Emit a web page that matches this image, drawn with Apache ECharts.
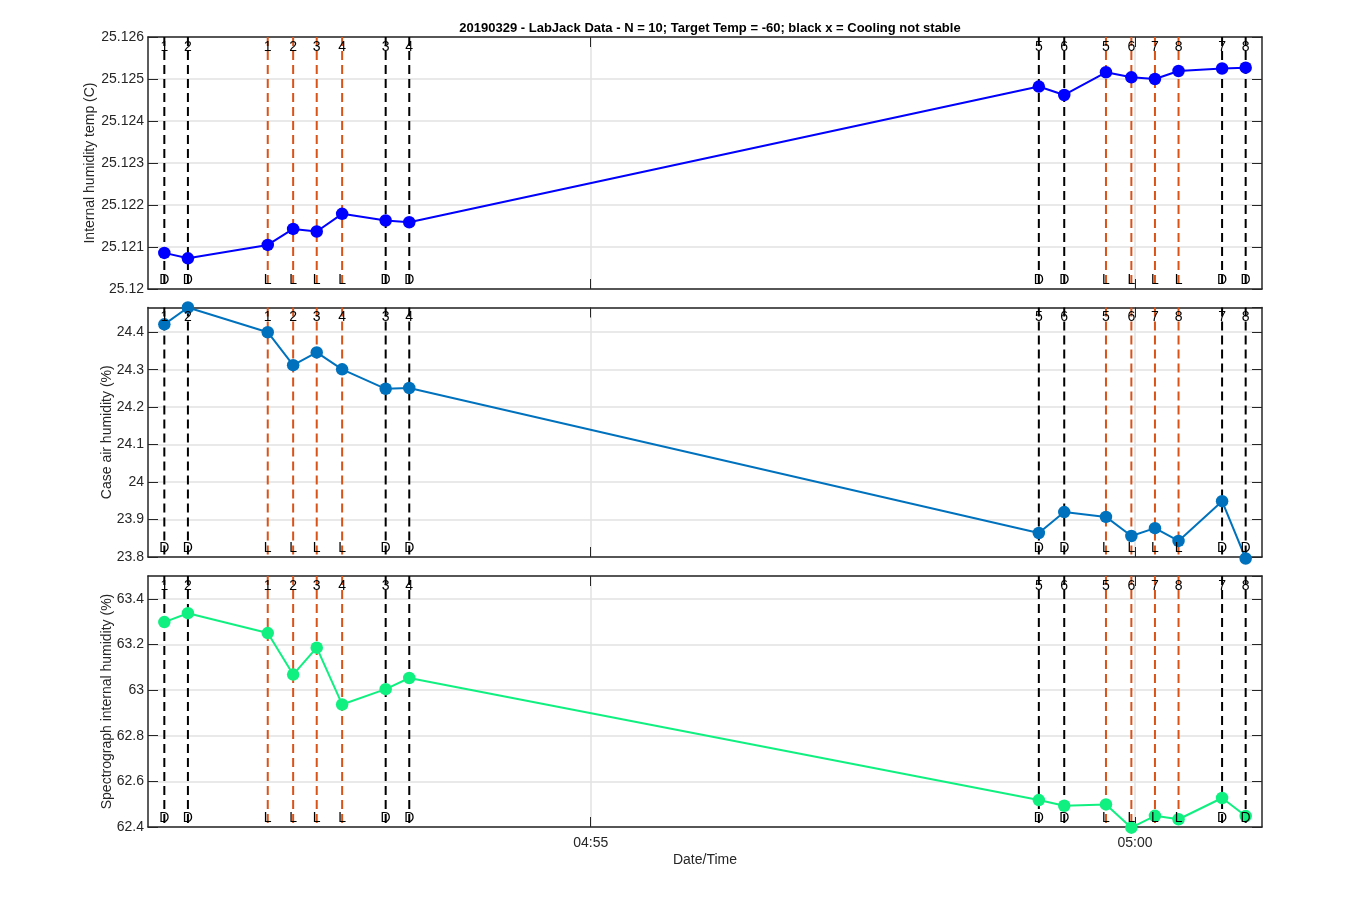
<!DOCTYPE html>
<html>
<head>
<meta charset="utf-8">
<script src="https://cdn.jsdelivr.net/npm/echarts@6/dist/echarts.min.js"></script>
<style>
html,body{margin:0;padding:0;background:#fff;}
#chart{width:1350px;height:900px;}
</style>
</head>
<body>
<div id="chart"></div>
<script>
// ---------- data ----------
const titleText = '20190329 - LabJack Data - N = 10; Target Temp = -60; black x = Cooling not stable';
const times = ['04:51:05','04:51:18','04:52:02','04:52:16','04:52:29','04:52:43','04:53:07','04:53:20',
               '04:59:07','04:59:21','04:59:44','04:59:58','05:00:11','05:00:24','05:00:48','05:01:01'];
const markTypes = ['D','D','L','L','L','L','D','D','D','D','L','L','L','L','D','D'];
const markNumbers = ['1','2','1','2','3','4','3','4','5','6','5','6','7','8','7','8'];
const internalTemp = [25.12086,25.12073,25.12105,25.12143,25.12137,25.12179,25.12163,25.12159,
                      25.12482,25.12462,25.12516,25.12504,25.12500,25.12519,25.12525,25.12527];
const caseHumidity = [24.421,24.466,24.400,24.312,24.346,24.301,24.249,24.251,
                      23.864,23.920,23.907,23.856,23.877,23.843,23.949,23.796];
const specHumidity = [63.298,63.337,63.250,63.068,63.186,62.937,63.004,63.053,
                      62.518,62.493,62.499,62.397,62.449,62.434,62.527,62.448];
const xTickTimes = ['04:55','05:00'];
const xRange = ['04:50:56','05:01:10'];
const yNames = ['Internal humidity temp (C)','Case air humidity (%)','Spectrograph internal humidity (%)'];
const yMins = [25.12, 23.8, 62.4];
const yMaxs = [25.126, 24.466, 63.5];
const yIntervals = [0.001, 0.1, 0.2];
const seriesColors = ['#0000FF','#0072BD','#10F080'];
const xAxisTitle = 'Date/Time';

// ---------- helpers ----------
function toSec(s){const p=s.split(':').map(Number);return p[0]*3600+p[1]*60+(p[2]||0);}
function fmtHM(v){const h=Math.floor(v/3600),m=Math.round((v-h*3600)/60);return String(h).padStart(2,'0')+':'+String(m).padStart(2,'0');}
const tSec = times.map(toSec);
const xMin = toSec(xRange[0]), xMax = toSec(xRange[1]);
const xTicks = xTickTimes.map(toSec);
const seriesData = [internalTemp, caseHumidity, specHumidity];

const FONT = '"Liberation Sans", Arial, Helvetica, sans-serif';
const AX = '#262626';
const GRIDC = '#E2E2E2';
const ORANGE = '#D95319';

const grids = [
  {left:148, right:88, top:37, height:252},
  {left:148, right:88, top:307.5, height:249.5},
  {left:148, right:88, top:576, height:251}
];

const xAxes = [], yAxes = [], series = [];
grids.forEach((g, i) => {
  const isLast = i === grids.length - 1;
  // bottom x axis
  xAxes.push({
    type:'value', gridIndex:i, position:'bottom', min:xMin, max:xMax,
    axisLine:{show:true, onZero:false, lineStyle:{color:AX, width:1.5}},
    axisTick:{show:true, inside:true, length:10, customValues:xTicks, lineStyle:{color:AX, width:1}},
    axisLabel:{show:isLast, customValues:xTicks, formatter:fmtHM, color:AX, fontSize:14, fontFamily:FONT, margin:9},
    splitLine:{show:true, lineStyle:{color:GRIDC, width:1.5}},
    name: isLast ? xAxisTitle : '', nameLocation:'middle', nameGap:26, nameMoveOverlap:false,
    nameTextStyle:{color:AX, fontSize:14, fontFamily:FONT}
  });
  // top x axis (box + ticks)
  xAxes.push({
    type:'value', gridIndex:i, position:'top', min:xMin, max:xMax,
    axisLine:{show:true, onZero:false, lineStyle:{color:AX, width:1.5}},
    axisTick:{show:true, inside:true, length:10, customValues:xTicks, lineStyle:{color:AX, width:1}},
    axisLabel:{show:false, customValues:xTicks},
    splitLine:{show:false}
  });
  // left y axis
  yAxes.push({
    type:'value', gridIndex:i, position:'left', min:yMins[i], max:yMaxs[i], interval:yIntervals[i],
    axisLine:{show:true, onZero:false, lineStyle:{color:AX, width:1.5}},
    axisTick:{show:true, inside:true, length:10, lineStyle:{color:AX, width:1}},
    axisLabel:{color:AX, fontSize:14, fontFamily:FONT, margin:4, showMaxLabel: i===0},
    splitLine:{show:true, lineStyle:{color:GRIDC, width:1.5}},
    name:yNames[i], nameLocation:'middle', nameGap: i===0 ? 51 : 34, nameMoveOverlap:false,
    nameTextStyle:{color:AX, fontSize:14, fontFamily:FONT}
  });
  // right y axis (box + ticks)
  yAxes.push({
    type:'value', gridIndex:i, position:'right', min:yMins[i], max:yMaxs[i], interval:yIntervals[i],
    axisLine:{show:true, onZero:false, lineStyle:{color:AX, width:1.5}},
    axisTick:{show:true, inside:true, length:10, lineStyle:{color:AX, width:1}},
    axisLabel:{show:false},
    splitLine:{show:false}
  });

  const xi = 2*i, yi = 2*i;
  const ymin = yMins[i];
  // dashed vertical marker lines
  series.push({
    type:'custom', xAxisIndex:xi, yAxisIndex:yi, z:1, silent:true, clip:false,
    data: tSec.map(t => [t, ymin]),
    encode:{x:0, y:1},
    renderItem:function(params, api){
      const cs = params.coordSys;
      const x = api.coord([api.value(0), api.value(1)])[0];
      const col = markTypes[params.dataIndex] === 'L' ? ORANGE : '#000000';
      return {type:'line', shape:{x1:x, y1:cs.y, x2:x, y2:cs.y+cs.height},
              style:{stroke:col, lineWidth:2, lineDash:[9,5]}};
    }
  });
  // data line
  series.push({
    type:'line', xAxisIndex:xi, yAxisIndex:yi, z:2, clip:false,
    data: tSec.map((t, k) => [t, seriesData[i][k]]),
    symbol:'circle', symbolSize:12.5, showSymbol:true,
    itemStyle:{color:seriesColors[i]},
    lineStyle:{color:seriesColors[i], width:2},
    animation:false
  });
  // marker texts
  series.push({
    type:'custom', xAxisIndex:xi, yAxisIndex:yi, z:3, silent:true, clip:false,
    data: tSec.map(t => [t, ymin]),
    encode:{x:0, y:1},
    renderItem:function(params, api){
      const cs = params.coordSys;
      const x = api.coord([api.value(0), api.value(1)])[0];
      const k = params.dataIndex;
      return {type:'group', children:[
        {type:'text', style:{text:markNumbers[k], x:x, y:cs.y+10, align:'center', verticalAlign:'middle',
          fill:'#000', font:'14px '+FONT}},
        {type:'text', style:{text:markTypes[k], x:x, y:cs.y+cs.height-9, align:'center', verticalAlign:'middle',
          fill:'#000', font:'14px '+FONT}}
      ]};
    }
  });
});

const chart = echarts.init(document.getElementById('chart'), null, {renderer:'canvas'});
chart.setOption({
  animation:false,
  backgroundColor:'#ffffff',
  title:{text:titleText, left:705, top:17, textAlign:'center',
         textStyle:{fontSize:13, fontWeight:'bold', color:'#000', fontFamily:FONT}},
  grid:grids,
  xAxis:xAxes,
  yAxis:yAxes,
  series:series
});
</script>
</body>
</html>
